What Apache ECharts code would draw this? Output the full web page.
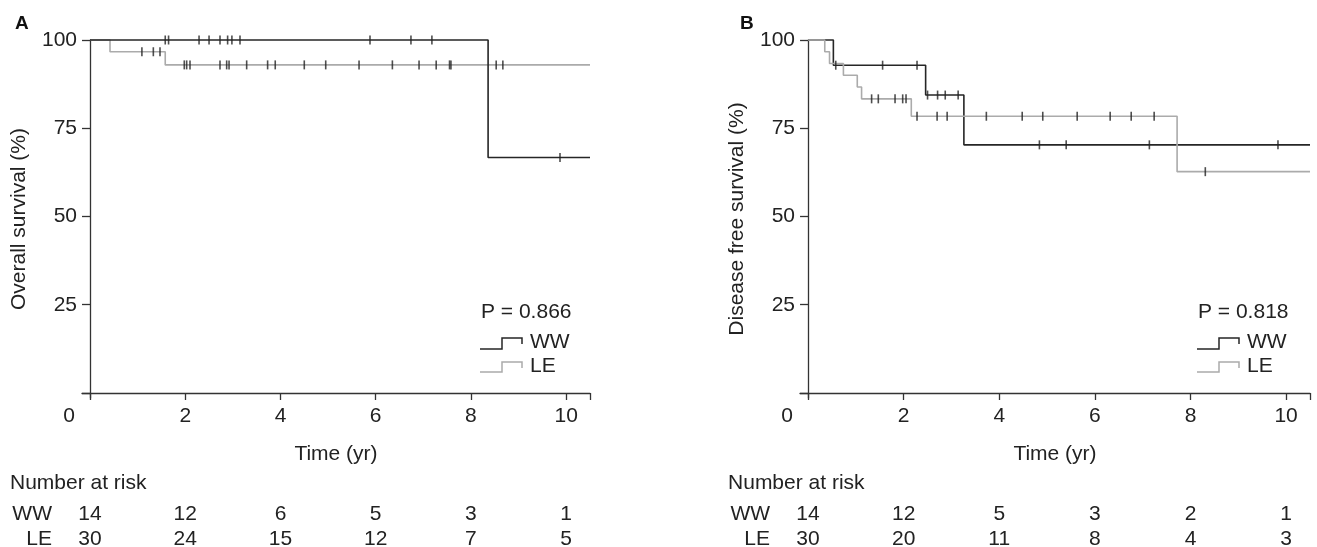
<!DOCTYPE html>
<html>
<head>
<meta charset="utf-8">
<script src="https://cdn.jsdelivr.net/npm/echarts@6/dist/echarts.min.js"></script>
<style>
html, body { margin: 0; padding: 0; background: #fff; }
#main { width: 1317px; height: 547px; }
</style>
</head>
<body>
<div id="main"></div>
<script>
// A: overall survival (step times / survival %)
const osWwTimes = [0, 8.36, 10.5];
const osWwSurv = [100, 66.7, 66.7];
const osWwCensor = [1.58, 1.65, 2.29, 2.5, 2.73, 2.89, 2.98, 3.15, 5.88, 6.74, 7.18, 9.87];
const osLeTimes = [0, 0.42, 1.58, 10.5];
const osLeSurv = [100, 96.67, 92.95, 92.95];
const osLeCensor = [1.09, 1.33, 1.47, 1.98, 2.03, 2.1, 2.73, 2.87, 2.92, 3.29, 3.73, 3.89, 4.5, 4.95, 5.65, 6.35, 6.91, 7.27, 7.55, 7.58, 8.53, 8.67];

// B: disease free survival
const dfsWwTimes = [0, 0.53, 2.46, 3.26, 10.5];
const dfsWwSurv = [100, 92.86, 84.4, 70.3, 70.3];
const dfsWwCensor = [0.58, 1.56, 2.28, 2.5, 2.71, 2.87, 3.14, 4.84, 5.4, 7.14, 9.83];
const dfsLeTimes = [0, 0.35, 0.45, 0.74, 1.03, 1.12, 2.16, 7.72, 10.5];
const dfsLeSurv = [100, 96.67, 93.33, 90.0, 86.67, 83.33, 78.4, 62.7, 62.7];
const dfsLeCensor = [1.33, 1.47, 1.82, 1.98, 2.05, 2.28, 2.7, 2.91, 3.73, 4.48, 4.91, 5.63, 6.32, 6.76, 7.24, 8.31];

// number at risk
const riskTimes = [0, 2, 4, 6, 8, 10];
const osRiskWw = [14, 12, 6, 5, 3, 1];
const osRiskLe = [30, 24, 15, 12, 7, 5];
const dfsRiskWw = [14, 12, 5, 3, 2, 1];
const dfsRiskLe = [30, 20, 11, 8, 4, 3];

// axis ticks
const xTicks = [0, 2, 4, 6, 8, 10, 10.5];
const xLabels = [0, 2, 4, 6, 8, 10];
const yTicks = [0, 25, 50, 75, 100];
const yLabels = [25, 50, 75, 100];

const FONT = '"Liberation Sans", Arial, sans-serif';
const FS = 21;
const TXT = "#222";
const AXIS = "#333";
const WW_COLOR = "#262626";
const LE_COLOR = "#ababab";

function survAt(times, surv, t) {
  let s = surv[0];
  for (let i = 0; i < times.length; i++) {
    if (times[i] <= t) s = surv[i];
  }
  return s;
}

function makeX(i) {
  return {
    type: "value",
    gridIndex: i,
    min: -0.168,
    max: 10.5,
    axisLine: { onZero: true, lineStyle: { color: AXIS, width: 1.3 } },
    axisTick: { customValues: xTicks, length: 7, lineStyle: { color: AXIS, width: 1.3 } },
    axisLabel: {
      customValues: xLabels,
      margin: 8,
      color: TXT,
      fontSize: FS,
      fontFamily: FONT,
      formatter: (v) => (v === 0 ? "{o|0}" : String(v)),
      rich: { o: { padding: [0, 42, 0, 0], fontSize: FS, fontFamily: FONT, color: TXT } },
    },
    splitLine: { show: false },
    name: "Time (yr)",
    nameLocation: "middle",
    nameGap: 46,
    nameTextStyle: { color: TXT, fontSize: FS, fontFamily: FONT },
  };
}

function makeY(i, name) {
  return {
    type: "value",
    gridIndex: i,
    min: -1.42,
    max: 100,
    axisLine: { onZero: true, lineStyle: { color: AXIS, width: 1.3 } },
    axisTick: { customValues: yTicks, length: 8, lineStyle: { color: AXIS, width: 1.3 } },
    axisLabel: { customValues: yLabels, margin: 5, color: TXT, fontSize: FS, fontFamily: FONT },
    splitLine: { show: false },
    name: name,
    nameLocation: "middle",
    nameGap: 52,
    nameTextStyle: { color: TXT, fontSize: FS, fontFamily: FONT },
  };
}

function stepSeries(i, times, surv, color) {
  return {
    type: "line",
    xAxisIndex: i,
    yAxisIndex: i,
    step: "end",
    showSymbol: false,
    clip: false,
    lineStyle: { color: color, width: 1.6 },
    data: times.map((t, k) => [t, surv[k]]),
  };
}

function censorSeries(i, times, surv, censor) {
  return {
    type: "scatter",
    xAxisIndex: i,
    yAxisIndex: i,
    symbol: "rect",
    symbolSize: [1.6, 9],
    clip: false,
    z: 5,
    itemStyle: { color: "#222" },
    data: censor.map((t) => [t, survAt(times, surv, t)]),
  };
}

const myChart = echarts.init(document.getElementById("main"));
const option = {
  backgroundColor: "#fff",
  animation: false,
  textStyle: { fontFamily: FONT },
  title: [
    { text: "A", left: 10, top: 9, textStyle: { fontSize: 19, fontWeight: "bold", color: "#111", fontFamily: FONT } },
    { text: "B", left: 735, top: 9, textStyle: { fontSize: 19, fontWeight: "bold", color: "#111", fontFamily: FONT } },
  ],
  grid: [
    { left: 82, top: 40, width: 508, height: 358, outerBoundsMode: "none" },
    { left: 800, top: 40, width: 510, height: 358, outerBoundsMode: "none" },
  ],
  xAxis: [makeX(0), makeX(1)],
  yAxis: [makeY(0, "Overall survival (%)"), makeY(1, "Disease free survival (%)")],
  series: [
    stepSeries(0, osLeTimes, osLeSurv, LE_COLOR),
    stepSeries(0, osWwTimes, osWwSurv, WW_COLOR),
    censorSeries(0, osLeTimes, osLeSurv, osLeCensor),
    censorSeries(0, osWwTimes, osWwSurv, osWwCensor),
    stepSeries(1, dfsWwTimes, dfsWwSurv, WW_COLOR),
    stepSeries(1, dfsLeTimes, dfsLeSurv, LE_COLOR),
    censorSeries(1, dfsLeTimes, dfsLeSurv, dfsLeCensor),
    censorSeries(1, dfsWwTimes, dfsWwSurv, dfsWwCensor),
  ],
};
myChart.setOption(option);

// legend, p value and number-at-risk table
function textEl(text, x, y, align) {
  return {
    type: "text",
    x: x,
    y: y,
    style: { text: text, fill: TXT, font: FS + "px " + FONT, align: align || "left", verticalAlign: "middle" },
  };
}

function legendEls(x0, p) {
  const els = [textEl(p, x0 + 1, 312)];
  [[WW_COLOR, "WW", 349, 338], [LE_COLOR, "LE", 372, 362]].forEach(([c, name, lo, hi]) => {
    els.push({
      type: "polyline",
      shape: { points: [[x0, lo], [x0 + 22, lo], [x0 + 22, hi], [x0 + 42, hi], [x0 + 42, hi + 6]] },
      style: { stroke: c, lineWidth: 1.5, fill: null },
    });
    els.push(textEl(name, x0 + 50, (lo + hi) / 2 - 1));
  });
  return els;
}

function riskEls(i, ww, le) {
  const x0 = myChart.convertToPixel({ xAxisIndex: i }, 0);
  const els = [textEl("Number at risk", x0 - 80, 483), textEl("WW", x0 - 38, 514, "right"), textEl("LE", x0 - 38, 539, "right")];
  riskTimes.forEach((t, k) => {
    const x = myChart.convertToPixel({ xAxisIndex: i }, t);
    els.push(textEl(String(ww[k]), x, 514, "center"));
    els.push(textEl(String(le[k]), x, 539, "center"));
  });
  return els;
}

myChart.setOption({
  graphic: [].concat(
    legendEls(480, "P = 0.866"),
    legendEls(1197, "P = 0.818"),
    riskEls(0, osRiskWw, osRiskLe),
    riskEls(1, dfsRiskWw, dfsRiskLe)
  ),
});
</script>
</body>
</html>
